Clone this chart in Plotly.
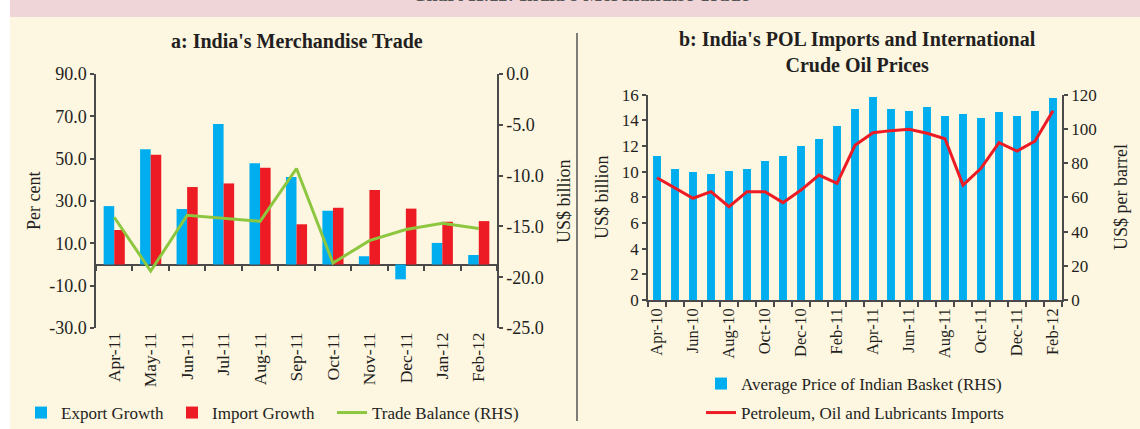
import plotly.graph_objects as go

W, H = 1140, 429

# ---------------- data: panel a ----------------
months_a = ["Apr-11", "May-11", "Jun-11", "Jul-11", "Aug-11", "Sep-11",
            "Oct-11", "Nov-11", "Dec-11", "Jan-12", "Feb-12"]
export_growth = [27.6, 54.4, 26.2, 66.4, 47.8, 41.3, 25.4, 3.9, -7.0, 10.2, 4.5]
import_growth = [16.3, 51.9, 36.6, 38.3, 45.7, 19.0, 26.8, 35.2, 26.4, 20.2, 20.5]
trade_balance = [-14.1, -19.4, -13.9, -14.2, -14.5, -9.3, -18.6, -16.4, -15.3, -14.7, -15.2]

pct_ticks = [-30, -10, 10, 30, 50, 70, 90]
pct_labels = ["-30.0", "-10.0", "10.0", "30.0", "50.0", "70.0", "90.0"]
bal_ticks = [-25, -20, -15, -10, -5, 0]
bal_labels = ["-25.0", "-20.0", "-15.0", "-10.0", "-5.0", "0.0"]

# ---------------- data: panel b ----------------
months_b = ["Apr-10", "May-10", "Jun-10", "Jul-10", "Aug-10", "Sep-10", "Oct-10",
            "Nov-10", "Dec-10", "Jan-11", "Feb-11", "Mar-11", "Apr-11", "May-11",
            "Jun-11", "Jul-11", "Aug-11", "Sep-11", "Oct-11", "Nov-11", "Dec-11",
            "Jan-12", "Feb-12"]
month_b_labels = ["Apr-10", "", "Jun-10", "", "Aug-10", "", "Oct-10", "", "Dec-10", "",
                  "Feb-11", "", "Apr-11", "", "Jun-11", "", "Aug-11", "", "Oct-11", "",
                  "Dec-11", "", "Feb-12"]
basket_price = [84.2, 76.6, 74.8, 73.6, 75.4, 76.6, 81.2, 84.2, 90.0, 94.1, 101.7, 111.6,
                118.6, 111.6, 110.5, 112.8, 107.5, 108.7, 106.4, 109.9, 107.5, 110.5, 118.1]
pol_imports = [9.53, 8.70, 7.93, 8.44, 7.27, 8.44, 8.44, 7.59, 8.57, 9.74, 9.09, 12.06,
               13.04, 13.20, 13.30, 12.99, 12.57, 8.96, 10.26, 12.26, 11.61, 12.39, 14.75]

# ---------------- styling ----------------
FONT = "Liberation Serif"
TXT = "#231f20"
AXC = "#4a4a4a"
BLUE = "#00aeef"
RED = "#ed1c24"
GREEN = "#8dc63f"
CREAM = "#fdf6e1"
PINK = "#efd5d8"


def fx(p):
    return p / W


def fy(p):
    return 1 - p / H


A_X = [fx(96), fx(497)]
A_Y = [fy(328), fy(74)]
B_X = [fx(648), fx(1062)]
B_Y = [fy(300), fy(94.7)]
zero_pos = A_Y[0] + (0 - (-30)) / (90 - (-30)) * (A_Y[1] - A_Y[0])

font_a = dict(family=FONT, size=18, color=TXT)
font_ax = dict(family=FONT, size=17.5, color=TXT)
font_b = dict(family=FONT, size=17, color=TXT)
font_bx = dict(family=FONT, size=16.5, color=TXT)
font_title = dict(family=FONT, size=20, color=TXT)
font_axtitle = dict(family=FONT, size=18, color=TXT)

fig = go.Figure()
fig.add_trace(go.Bar(x=months_a, y=export_growth, name="Export Growth",
                     marker=dict(color=BLUE, line=dict(width=0)),
                     xaxis="x", yaxis="y", legend="legend"))
fig.add_trace(go.Bar(x=months_a, y=import_growth, name="Import Growth",
                     marker=dict(color=RED, line=dict(width=0)),
                     xaxis="x", yaxis="y", legend="legend2"))
fig.add_trace(go.Scatter(x=months_a, y=trade_balance, name="Trade Balance (RHS)",
                         mode="lines", line=dict(color=GREEN, width=3),
                         xaxis="x3", yaxis="y2", legend="legend3"))
fig.add_trace(go.Bar(x=months_b, y=basket_price, name="Average Price of Indian Basket (RHS)",
                     width=0.44, marker=dict(color=BLUE, line=dict(width=0)),
                     xaxis="x2", yaxis="y3", legend="legend4"))
fig.add_trace(go.Scatter(x=months_b, y=pol_imports, name="Petroleum, Oil and Lubricants Imports",
                         mode="lines", line=dict(color=RED, width=3),
                         xaxis="x2", yaxis="y4", legend="legend5"))

axis_common = dict(showgrid=False, linecolor=AXC, tickcolor=AXC, linewidth=1.5, tickwidth=1.5)
axis_noline = dict(showgrid=False, tickcolor=AXC, tickwidth=1.5)

legfont = dict(family=FONT, size=17, color=TXT)


def leg(xp, yp):
    return dict(x=fx(xp), y=fy(yp), xanchor="left", yanchor="middle",
                orientation="h", font=legfont, bgcolor="rgba(0,0,0,0)",
                borderwidth=0, visible=True)


fig.update_layout(
    width=W, height=H,
    margin=dict(l=0, r=0, t=0, b=0, pad=0, autoexpand=False),
    paper_bgcolor=CREAM, plot_bgcolor="rgba(0,0,0,0)",
    barmode="group", bargap=0.42, bargroupgap=0,
    font=dict(family=FONT, color=TXT),
    showlegend=True,
    xaxis=dict(domain=A_X, anchor="y", type="category", categoryarray=months_a,
               range=[-0.5, 10.5], showline=False, ticks="", tickangle=-90,
               zeroline=False, tickfont=font_ax, **axis_noline),
    yaxis=dict(domain=A_Y, anchor="x", range=[-30, 90], tickvals=pct_ticks, ticktext=pct_labels,
               ticks="outside", ticklen=4, showline=True, zeroline=True,
               zerolinecolor=AXC, zerolinewidth=1.5, tickfont=font_a, **axis_common),
    yaxis2=dict(overlaying="y", side="right", anchor="x", range=[-25, 0],
                tickvals=bal_ticks, ticktext=bal_labels, ticks="outside", ticklen=4,
                showline=True, zeroline=False, tickfont=font_a, **axis_common),
    xaxis3=dict(overlaying="x", anchor="free", position=zero_pos, type="category",
                categoryarray=months_a, range=[-0.5, 10.5], tickson="boundaries",
                ticks="outside", ticklen=5, showticklabels=False, showline=False,
                zeroline=False, **axis_noline),
    xaxis2=dict(domain=B_X, anchor="y3", type="category", categoryarray=months_b,
                range=[-0.5, 22.5], tickvals=months_b, ticktext=month_b_labels,
                tickson="boundaries", ticks="outside", ticklen=5, tickangle=-90,
                showline=True, zeroline=False, tickfont=font_bx, **axis_common),
    yaxis3=dict(domain=B_Y, anchor="x2", side="right", range=[0, 120], dtick=20,
                ticks="outside", ticklen=4, showline=True, zeroline=False,
                tickfont=font_b, **axis_common),
    yaxis4=dict(overlaying="y3", side="left", anchor="x2", range=[0, 16], dtick=2,
                ticks="outside", ticklen=4, showline=True, zeroline=False,
                tickfont=font_b, **axis_common),
    legend=leg(21, 413),
    legend2=leg(172, 413),
    legend3=leg(332, 413),
    legend4=leg(701, 384),
    legend5=leg(701, 413),
    shapes=[
        dict(type="rect", xref="paper", yref="paper", x0=0, x1=fx(10), y0=0, y1=1,
             fillcolor="white", line=dict(width=0), layer="below"),
        dict(type="rect", xref="paper", yref="paper", x0=fx(10), x1=1, y0=fy(17), y1=1,
             fillcolor=PINK, line=dict(width=0), layer="below"),
        dict(type="line", xref="paper", yref="paper", x0=fx(577), x1=fx(577),
             y0=fy(421), y1=fy(33), line=dict(color="#555555", width=1.5)),
    ],
    annotations=[
        dict(text="<b>Chart II.11: India's Merchandise Trade</b>", xref="paper", yref="paper",
             x=fx(580), y=fy(7), xanchor="center", yanchor="bottom", showarrow=False,
             font=dict(family=FONT, size=20, color="#555555")),
        dict(text="<b>a: India's Merchandise Trade</b>", xref="paper", yref="paper",
             x=fx(297), y=fy(41), xanchor="center", yanchor="middle", showarrow=False,
             font=font_title),
        dict(text="<b>b: India's POL Imports and International<br>Crude Oil Prices</b>",
             xref="paper", yref="paper", x=fx(857), y=fy(52), xanchor="center",
             yanchor="middle", showarrow=False, font=font_title),
        dict(text="Per cent", xref="paper", yref="paper", x=fx(34), y=fy(201),
             textangle=-90, showarrow=False, xanchor="center", yanchor="middle",
             font=font_axtitle),
        dict(text="US$ billion", xref="paper", yref="paper", x=fx(564), y=fy(201),
             textangle=-90, showarrow=False, xanchor="center", yanchor="middle",
             font=font_axtitle),
        dict(text="US$ billion", xref="paper", yref="paper", x=fx(602), y=fy(197),
             textangle=-90, showarrow=False, xanchor="center", yanchor="middle",
             font=font_axtitle),
        dict(text="US$ per barrel", xref="paper", yref="paper", x=fx(1121), y=fy(197),
             textangle=-90, showarrow=False, xanchor="center", yanchor="middle",
             font=font_axtitle),
    ],
)

fig.write_html("out.html", config={"displayModeBar": False},
               post_script="document.body.style.margin='0';document.body.style.padding='0';")
